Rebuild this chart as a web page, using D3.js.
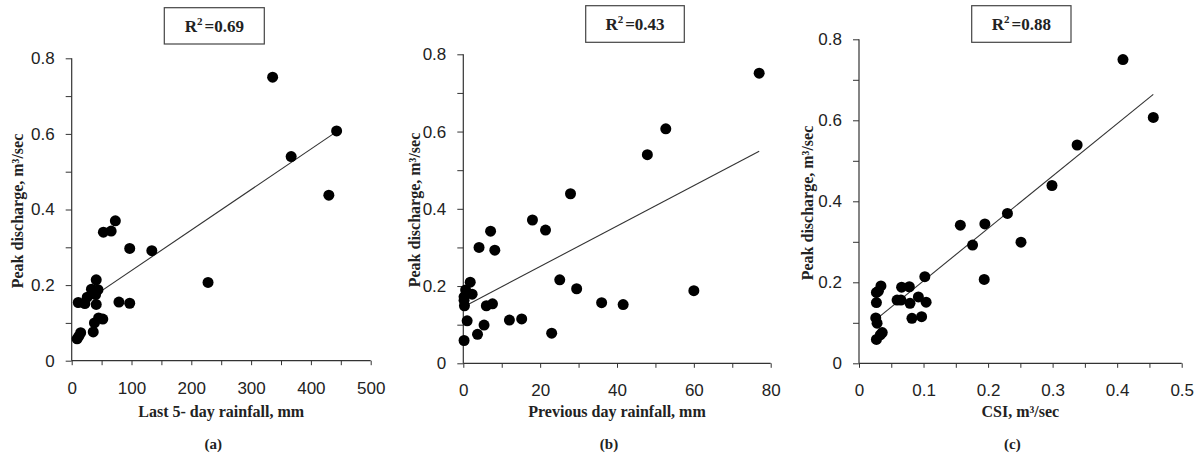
<!DOCTYPE html>
<html><head><meta charset="utf-8">
<script src="https://cdn.jsdelivr.net/npm/d3@7"></script>
<style>body{margin:0;background:#fff}svg{display:block}</style>
</head><body><svg id="chart" width="1202" height="456"></svg>
<script>
// ---- Panel (a): last 5-day rainfall (mm) vs peak discharge (m3/s)
const rain5Day = [336,443,367,430,73,53,66,97,134,228,41,33,44,38,26,11,22,41,79,97,52,45,38,36,15,12,9,40];
const peakA    = [0.750,0.608,0.540,0.438,0.370,0.340,0.343,0.297,0.291,0.207,0.214,0.189,0.188,0.178,0.168,0.154,0.151,0.149,0.155,0.152,0.110,0.113,0.100,0.076,0.074,0.065,0.058,0.175];
const fitA_x = [9,443], fitA_y = [0.141,0.606];

// ---- Panel (b): previous day rainfall (mm) vs peak discharge
const rainPrevDay = [77.0,52.7,47.9,27.9,18.0,21.4,7.1,4.1,8.2,25.1,29.5,60.0,36.0,41.6,12.0,15.2,23.0,3.7,5.4,6.0,7.6,0.2,1.0,1.8,2.3,0.6,0.2,0.3,0.2];
const peakB       = [0.751,0.607,0.540,0.439,0.371,0.345,0.342,0.300,0.293,0.216,0.193,0.188,0.157,0.152,0.112,0.115,0.078,0.075,0.099,0.149,0.154,0.059,0.110,0.210,0.179,0.190,0.172,0.149,0.163];
const fitB_x = [0,77], fitB_y = [0.146,0.549];

// ---- Panel (c): CSI (m3/s) vs peak discharge
const csi   = [0.409,0.456,0.338,0.299,0.230,0.157,0.195,0.176,0.251,0.194,0.102,0.034,0.030,0.027,0.027,0.066,0.078,0.059,0.065,0.079,0.092,0.104,0.082,0.097,0.026,0.028,0.036,0.033,0.027];
const peakC = [0.750,0.607,0.539,0.439,0.370,0.341,0.344,0.292,0.299,0.207,0.214,0.191,0.178,0.175,0.150,0.188,0.189,0.156,0.156,0.148,0.164,0.151,0.111,0.115,0.112,0.099,0.076,0.070,0.059];
const fitC_x = [0.026,0.456], fitC_y = [0.108,0.664];

// ---- Tick labels
const yTickLabels  = [0,0.2,0.4,0.6,0.8];
const xTickLabelsA = [0,100,200,300,400,500];
const xTickLabelsB = [0,20,40,60,80];
const xTickLabelsC = [0,0.1,0.2,0.3,0.4,0.5];
const r2Values = ["0.69","0.43","0.88"];
const xTitles = ["Last 5- day rainfall, mm","Previous day rainfall, mm","CSI, m\u00B3/sec"];
const panelLabels = ["(a)","(b)","(c)"];
const yTitle = "Peak discharge, m\u00B3/sec";

const panels = [
  {xs:rain5Day, ys:peakA, fx:fitA_x, fy:fitA_y, xt:xTickLabelsA, xMinorStep:50, x0:71.7, x1:370.7, y0:360.7, y1:58.3, ytx:18, yty:211, box:[164.3,7.7,100,36.3]},
  {xs:rainPrevDay, ys:peakB, fx:fitB_x, fy:fitB_y, xt:xTickLabelsB, xMinorStep:10, x0:463.3, x1:770.7, y0:363.3, y1:54.3, ytx:415, yty:210, box:[585.7,5.7,98.6,36.6]},
  {xs:csi, ys:peakC, fx:fitC_x, fy:fitC_y, xt:xTickLabelsC, xMinorStep:0.05, x0:859, x1:1181.7, y0:363.3, y1:39.3, ytx:808, yty:203, box:[971.7,5.7,99.3,36.6]}
];

const svg = d3.select("#chart");
svg.append("rect").attr("width",1202).attr("height",456).attr("fill","#fff");
const serif = "'Liberation Serif','Times New Roman',serif";
const sans = "'Liberation Sans',Arial,sans-serif";
const axisCol = "#333";

panels.forEach((p,i)=>{
  const xd = [p.xt[0], p.xt[p.xt.length-1]];
  const x = d3.scaleLinear().domain(xd).range([p.x0,p.x1]);
  const y = d3.scaleLinear().domain([0,0.8]).range([p.y0,p.y1]);
  const g = svg.append("g");

  const xAll = d3.range(xd[0], xd[1] + p.xMinorStep/2, p.xMinorStep).map(v=>+v.toFixed(4));
  const yAll = d3.range(0, 0.85, 0.1).map(v=>+v.toFixed(4));
  const isMajor = (arr,v)=>arr.some(a=>Math.abs(a-v)<1e-9);

  const xAxis = d3.axisBottom(x).tickValues(xAll).tickSize(4.5).tickPadding(16.5)
    .tickFormat(v=> isMajor(p.xt,v) ? String(v) : "");
  const yAxis = d3.axisLeft(y).tickValues(yAll).tickSize(6).tickPadding(11)
    .tickFormat(v=> isMajor(yTickLabels,v) ? String(v) : "");

  const gx = g.append("g").attr("transform",`translate(0,${p.y0})`).call(xAxis);
  const gy = g.append("g").attr("transform",`translate(${p.x0},0)`).call(yAxis);
  [gx,gy].forEach(a=>{
    a.select(".domain").attr("stroke",axisCol).attr("stroke-width",1.2);
    a.selectAll(".tick line").attr("stroke",axisCol).attr("stroke-width",1);
    a.selectAll(".tick text").attr("font-family",sans).attr("font-size",17).attr("fill","#222");
  });
  gx.select(".domain").attr("d",`M${p.x0},0H${p.x1}`);
  gy.select(".domain").attr("d",`M0,${p.y0}V${p.y1}`);

  // fit line
  const line = d3.line().x(d=>x(d[0])).y(d=>y(d[1]));
  g.append("path").datum(p.fx.map((v,k)=>[v,p.fy[k]]))
    .attr("d",line).attr("stroke","#333").attr("stroke-width",1.1).attr("fill","none");

  // points
  g.selectAll("circle.pt").data(p.xs.map((v,k)=>[v,p.ys[k]])).join("circle")
    .attr("class","pt").attr("cx",d=>x(d[0])).attr("cy",d=>y(d[1])).attr("r",5.5).attr("fill","#000");

  // x title
  g.append("text").attr("x",(p.x0+p.x1)/2).attr("y",417).attr("text-anchor","middle")
    .attr("font-family",serif).attr("font-weight","bold").attr("font-size",16).attr("fill","#222")
    .text(xTitles[i]);
  // y title
  g.append("text").attr("transform",`translate(${p.ytx+5},${p.yty}) rotate(-90)`).attr("text-anchor","middle")
    .attr("font-family",serif).attr("font-weight","bold").attr("font-size",16).attr("fill","#222")
    .text(yTitle);
  // panel label
  g.append("text").attr("x",(p.x0+p.x1)/2 - 8).attr("y",449).attr("text-anchor","middle")
    .attr("font-family",serif).attr("font-weight","bold").attr("font-size",15).attr("fill","#222")
    .text(panelLabels[i]);
  // R2 box
  const b = p.box;
  g.append("rect").attr("x",b[0]).attr("y",b[1]).attr("width",b[2]).attr("height",b[3])
    .attr("fill","#fff").attr("stroke","#444").attr("stroke-width",1.2);
  const t = g.append("text").attr("x",b[0]+b[2]/2).attr("y",b[1]+b[3]/2+6).attr("text-anchor","middle")
    .attr("font-family",serif).attr("font-weight","bold").attr("font-size",17).attr("fill","#222");
  t.append("tspan").text("R");
  t.append("tspan").attr("font-size",11).attr("dy",-7).text("2");
  t.append("tspan").attr("dy",7).attr("dx",2).text("=" + r2Values[i]);
});
</script></body></html>
